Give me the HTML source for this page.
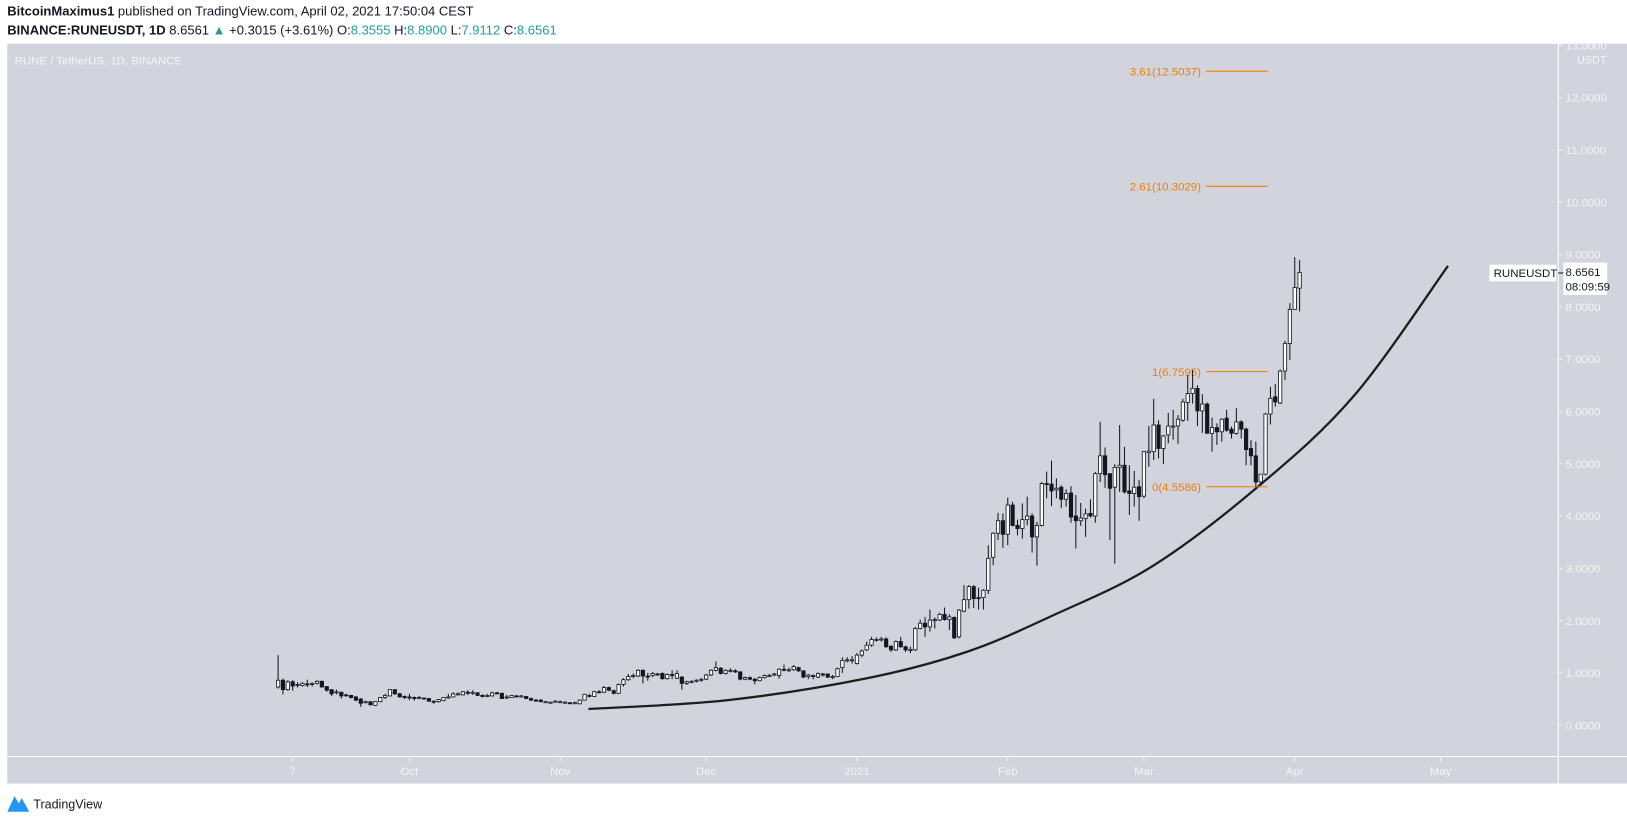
<!DOCTYPE html>
<html><head><meta charset="utf-8"><title>RUNEUSDT chart</title>
<style>
html,body{margin:0;padding:0;background:#fff;}
svg{display:block;}
text{font-family:"Liberation Sans",sans-serif;}
</style></head>
<body>
<svg id="chart" width="1627" height="819" viewBox="0 0 1562 786" preserveAspectRatio="none" xmlns="http://www.w3.org/2000/svg">
  <g>
    <text x="7" y="15" font-size="12.5" fill="#131722"><tspan font-weight="bold">BitcoinMaximus1</tspan> published on TradingView.com, April 02, 2021 17:50:04 CEST</text>
    <text x="7" y="33" font-size="12.5" fill="#131722"><tspan font-weight="bold">BINANCE:RUNEUSDT, 1D</tspan> 8.6561 <tspan fill="#22a08f">▲</tspan> +0.3015 (+3.61%) O:<tspan fill="#22a08f">8.3555</tspan> H:<tspan fill="#22a08f">8.8900</tspan> L:<tspan fill="#22a08f">7.9112</tspan> C:<tspan fill="#22a08f">8.6561</tspan></text>
  </g>
  <rect x="7" y="42" width="1555" height="710" fill="#d1d4dc"/>
  <line x1="7" y1="726" x2="1562" y2="726" stroke="#fff" stroke-width="1"/>
  <line x1="1496" y1="42" x2="1496" y2="752" stroke="#fff" stroke-width="1"/>
  <text x="14" y="62" font-size="11" fill="#f3f4f7">RUNE / TetherUS, 1D, BINANCE</text>
  <g id="yaxis"></g>
  <g id="xaxis"></g>
  <g id="curve"></g>
  <g id="fib"></g>
  <g id="candles"></g>
  <g>
    <rect x="1430" y="254" width="64" height="16" fill="#fff"/>
    <text x="1434" y="266" font-size="11" fill="#131722">RUNEUSDT</text>
    <line x1="1496" y1="262" x2="1501" y2="262" stroke="#131722"/>
    <rect x="1501" y="252" width="42" height="31" fill="#fff"/>
    <text x="1503" y="265" font-size="11" fill="#131722">8.6561</text>
    <text x="1503" y="279" font-size="11" fill="#131722">08:09:59</text>
  </g>
  <g>
    <path d="M7 779 L14 764 L18 771 L21 766 L28 779 Z" fill="#2196f3"/>
    <text x="32" y="776" font-size="12" fill="#131722">TradingView</text>
  </g>
</svg>
<script>
// ---- data ----
const startDay = 0; // day 0 = 2020-09-04
const opens = [0.73,0.86,0.68,0.83,0.76,0.76,0.79,0.78,0.80,0.84,0.74,0.68,0.62,0.63,0.58,0.57,0.54,0.50,0.44,0.45,0.38,0.45,0.53,0.56,0.68,0.60,0.55,0.54,0.53,0.52,0.52,0.51,0.46,0.45,0.47,0.53,0.54,0.59,0.58,0.63,0.62,0.62,0.57,0.56,0.56,0.62,0.61,0.52,0.53,0.56,0.55,0.55,0.51,0.48,0.48,0.44,0.44,0.45,0.45,0.44,0.43,0.42,0.41,
.48,.57,.55,.64,.63,.72,.66,.61,.78,.87,.93,.94,1.05,.94,.95,.98,.99,.89,.97,.9,.92,.8,.83,.84,.86,.88,.96,1.05,1.09,.99,1.05,1.04,1.02,.88,.91,.88,.85,.91,.95,.96,.95,1.07,1.06,1.06,1.1,1.04,.93,.95,.92,.98,.98,.92,.93,1.1,1.24,1.24,1.18,1.34,
1.44,1.53,1.64,1.64,1.65,1.51,1.44,1.6,1.5,1.44,1.44,1.85,1.95,1.88,2.01,2.01,2.12,2.02,2.06,1.69,2.18,2.4,2.65,2.44,2.44,2.58,3.21,3.67,3.91,3.65,4.21,3.82,3.76,3.93,4.0,3.6,3.82,4.62,4.61,4.5,4.55,4.32,4.44,4.0,3.91,3.95,4.05,4.0,4.81,5.15,4.81,4.55,4.93,4.97,4.48,4.43,4.56,4.38,5.21,5.23,5.74,5.29,5.55,5.71,5.72,5.83,6.17,6.34,6.44,6.01,6.14,5.58,5.69,5.61,5.87,5.66,5.58,5.8,5.66,5.29,5.15,4.65,4.8,5.95,6.28,6.16,6.77,7.3,7.95,8.3555];
const highs = [1.34,0.89,0.86,0.86,0.82,0.82,0.87,0.82,0.86,0.85,0.75,0.69,0.68,0.64,0.60,0.58,0.56,0.52,0.47,0.45,0.46,0.54,0.60,0.69,0.69,0.62,0.57,0.60,0.55,0.56,0.53,0.52,0.47,0.50,0.54,0.60,0.63,0.63,0.65,0.67,0.67,0.63,0.59,0.60,0.64,0.64,0.62,0.58,0.58,0.58,0.58,0.56,0.53,0.50,0.50,0.46,0.45,0.48,0.47,0.46,0.44,0.45,0.49,
.6,.6,.66,.67,.75,.74,.68,.8,.9,.98,.99,1.07,1.07,1.0,1.02,1.0,1.01,.99,1.05,1.05,.94,.85,.86,.88,.9,.98,1.07,1.22,1.11,1.07,1.09,1.07,1.03,.93,.93,.9,.93,.97,.98,1.0,1.09,1.16,1.1,1.15,1.12,1.05,.98,.97,1.01,1.0,.99,.96,1.1,1.3,1.3,1.32,1.38,1.45,
1.6,1.69,1.68,1.69,1.68,1.53,1.62,1.69,1.52,1.5,1.88,2.02,2.07,2.21,2.06,2.15,2.25,2.12,2.08,2.22,2.68,2.68,2.68,2.63,2.6,3.44,3.69,4.06,4.05,4.35,4.27,3.93,4.24,4.37,4.05,3.89,4.65,4.85,5.06,4.72,4.59,4.51,4.57,4.4,4.25,4.14,4.32,4.84,5.8,5.31,4.81,4.99,5.74,5.32,4.97,4.86,4.69,5.24,5.72,6.24,5.83,5.55,5.97,6.03,5.93,6.24,6.7,6.79,6.5,6.33,6.17,5.88,5.77,5.87,6.03,5.71,6.06,5.83,5.69,5.45,5.42,4.8,5.97,6.47,6.52,6.8,7.35,8.07,8.95,8.89];
const lows = [0.70,0.59,0.66,0.66,0.72,0.74,0.73,0.74,0.78,0.72,0.64,0.56,0.59,0.51,0.55,0.51,0.46,0.35,0.42,0.38,0.37,0.44,0.50,0.55,0.58,0.53,0.50,0.48,0.47,0.50,0.49,0.45,0.41,0.43,0.46,0.51,0.53,0.57,0.57,0.58,0.58,0.56,0.53,0.54,0.55,0.59,0.50,0.50,0.52,0.53,0.53,0.50,0.46,0.45,0.44,0.43,0.43,0.44,0.44,0.43,0.41,0.41,0.40,
.47,.53,.54,.61,.62,.65,.59,.6,.74,.85,.9,.92,.8,.85,.92,.95,.87,.87,.88,.88,.68,.77,.8,.82,.83,.86,.94,1.03,.97,.97,1.01,1.0,.86,.86,.86,.78,.84,.89,.93,.94,.89,1.03,1.02,1.04,1.02,.9,.88,.88,.9,.93,.9,.88,.92,1.0,1.2,1.18,1.16,1.3,
1.42,1.5,1.6,1.6,1.48,1.4,1.42,1.48,1.4,1.38,1.42,1.83,1.69,1.79,1.85,1.99,2.0,1.82,1.65,1.66,2.16,2.23,2.24,2.21,2.21,2.51,3.06,3.54,3.39,3.44,3.8,3.63,3.57,3.82,3.3,3.05,3.8,4.34,4.19,4.34,4.15,4.18,3.87,3.38,3.81,3.6,3.97,3.87,4.65,4.54,3.54,3.09,4.46,4.43,4.02,4.18,3.91,4.34,4.94,5.07,5.1,4.99,5.39,5.46,5.38,5.8,5.82,6.15,5.72,5.59,5.58,5.23,5.36,5.42,5.61,5.48,5.55,5.48,4.97,4.97,4.56,4.59,4.78,5.75,6.09,6.14,6.6,6.98,7.95,7.9112];
const closes = [0.86,0.68,0.83,0.75,0.78,0.80,0.78,0.80,0.84,0.73,0.67,0.60,0.64,0.56,0.57,0.53,0.48,0.42,0.45,0.39,0.45,0.53,0.57,0.68,0.60,0.54,0.53,0.53,0.52,0.53,0.50,0.46,0.45,0.49,0.53,0.54,0.60,0.60,0.64,0.62,0.63,0.57,0.56,0.57,0.62,0.61,0.51,0.54,0.57,0.55,0.56,0.51,0.48,0.47,0.45,0.45,0.44,0.46,0.45,0.44,0.42,0.43,0.48,
.59,.55,.64,.63,.72,.67,.61,.78,.87,.93,.95,1.05,.94,.93,.99,.97,.89,.97,.96,.99,.8,.83,.84,.86,.88,.96,1.05,1.1,.99,1.05,1.05,1.02,.88,.91,.88,.85,.91,.95,.95,.98,1.07,1.06,1.06,1.12,1.04,.92,.96,.93,.99,.97,.92,.93,1.08,1.24,1.25,1.25,1.34,1.42,
1.53,1.64,1.64,1.65,1.5,1.44,1.6,1.5,1.44,1.45,1.85,1.95,1.88,2.01,2.02,2.12,2.02,2.07,1.67,2.2,2.4,2.65,2.42,2.42,2.58,3.19,3.67,3.91,3.65,4.21,3.82,3.76,3.93,4.0,3.6,3.82,4.62,4.61,4.48,4.53,4.32,4.43,3.98,3.91,3.96,4.04,4.0,4.81,5.15,4.79,4.53,4.93,4.97,4.46,4.43,4.55,4.37,5.23,5.24,5.74,5.29,5.53,5.72,5.72,5.85,6.18,6.34,6.44,6.01,6.14,5.58,5.69,5.61,5.85,5.64,5.58,5.8,5.66,5.27,5.15,4.65,4.8,5.95,6.25,6.18,6.77,7.3,7.95,8.37,8.6561];
const priceTicks = [0,1,2,3,4,5,6,7,8,9,10,11,12,13];
const timeTickDays = [3,27,58,88,119,150,178,209,239];
const timeTickLabels = ["7","Oct","Nov","Dec","2021","Feb","Mar","Apr","May"];
const fibLevels = ["3.61","2.61","1","0"];
const fibPrices = [12.5037,10.3029,6.7595,4.5586];
const curveDays = [63.8,92.5,121.2,141.5,159.3,179.9,201.7,221.2,240.5];
const curvePrices = [0.31,0.48,0.9,1.4,2.1,3.05,4.58,6.3,8.78];

// ---- axes ----
const NS = "http://www.w3.org/2000/svg";
function xOf(d){ return 281 + (d - 3) * 4.67; }
function yOf(p){ return 696 - 50.2 * p; }
function mk(tag, attrs, parent){ const e = document.createElementNS(NS, tag); for (const k in attrs) e.setAttribute(k, attrs[k]); parent.appendChild(e); return e; }

const yaxis = document.getElementById('yaxis');
priceTicks.forEach(function(p){
  const y = yOf(p);
  const t = mk('line', {x1:1496, y1:y, x2:1500, y2:y, stroke:'#f3f4f7'}, yaxis);
  
  
  const tx = mk('text', {x:1503, y:y+4, 'font-size':11, fill:'#f3f4f7'}, yaxis);
  tx.textContent = p.toFixed(4);
  
  
});
const unit = mk('text', {x:1514, y:61, 'font-size':10.5, fill:'#f3f4f7'}, yaxis);
unit.textContent = 'USDT';



const xaxis = document.getElementById('xaxis');
timeTickDays.forEach(function(d, i){
  const x = xOf(d);
  const t = mk('line', {x1:x, y1:726, x2:x, y2:731, stroke:'#f3f4f7'}, xaxis);
  
  
  const tx = mk('text', {x:x, y:744, 'font-size':11, fill:'#f3f4f7', 'text-anchor':'middle'}, xaxis);
  tx.textContent = timeTickLabels[i];
  
  
});

// ---- curve ----
const curveG = document.getElementById('curve');
const pts = curveDays.map(function(d, i){ return [xOf(d), yOf(curvePrices[i])]; });
let dPath = 'M' + pts[0][0] + ' ' + pts[0][1];
for (let i = 0; i < pts.length - 1; i++) {
  const p0 = pts[Math.max(0, i - 1)], p1 = pts[i], p2 = pts[i + 1], p3 = pts[Math.min(pts.length - 1, i + 2)];
  const c1x = p1[0] + (p2[0] - p0[0]) / 6, c1y = p1[1] + (p2[1] - p0[1]) / 6;
  const c2x = p2[0] - (p3[0] - p1[0]) / 6, c2y = p2[1] - (p3[1] - p1[1]) / 6;
  dPath += ' C' + c1x + ' ' + c1y + ' ' + c2x + ' ' + c2y + ' ' + p2[0] + ' ' + p2[1];
}
const cp = mk('path', {d:dPath, fill:'none', stroke:'#1e1e1e', 'stroke-width':2.2}, curveG);



// ---- fib ----
const fibG = document.getElementById('fib');
fibLevels.forEach(function(lv, i){
  const y = yOf(fibPrices[i]);
  const l = mk('line', {x1:1158, y1:y, x2:1217, y2:y, stroke:'#f57c00', 'stroke-width':1}, fibG);
  
  
  const t = mk('text', {x:1153, y:y+4, 'font-size':11, fill:'#f57c00', 'text-anchor':'end'}, fibG);
  t.textContent = lv + '(' + fibPrices[i].toFixed(4) + ')';
  
  
});

// ---- candles ----
const cg = document.getElementById('candles');
closes.forEach(function(c, i){
  const d = startDay + i;
  const x = xOf(d);
  const o = opens[i], h = highs[i], l = lows[i];
  const up = c >= o;
  const w = mk('line', {x1:x, y1:yOf(h), x2:x, y2:yOf(l), stroke:'#131722', 'stroke-width':1}, cg);
  
  
  const top = yOf(Math.max(o, c)), bot = yOf(Math.min(o, c));
  const b = mk('rect', {x:x - 1.6, y:top, width:3.2, height:Math.max(1, bot - top), fill: up ? '#ffffff' : '#131722', stroke:'#131722', 'stroke-width':0.8}, cg);
  
  
});
</script>
</body></html>
